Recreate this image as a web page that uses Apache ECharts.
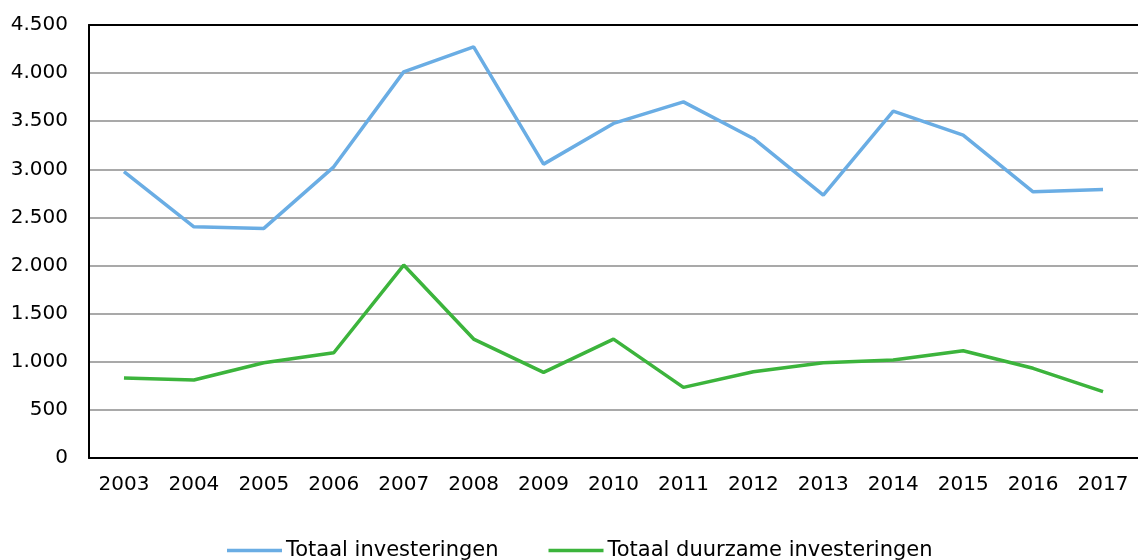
<!DOCTYPE html>
<html>
<head>
<meta charset="utf-8">
<script src="https://cdn.jsdelivr.net/npm/echarts@6/dist/echarts.min.js"></script>
<style>html,body{margin:0;padding:0;background:#fff}#c{width:1138px;height:560px}</style>
</head>
<body>
<div id="c"></div>
<script>
const years = ['2003','2004','2005','2006','2007','2008','2009','2010','2011','2012','2013','2014','2015','2016','2017'];
const totaalInvesteringen = [2975, 2403, 2386, 3026, 4013, 4273, 3054, 3477, 3701, 3321, 2732, 3605, 3355, 2766, 2791];
const totaalDuurzaam = [831, 810, 990, 1094, 2005, 1236, 890, 1236, 734, 897, 990, 1018, 1115, 932, 689];
const seriesNames = ['Totaal investeringen', 'Totaal duurzame investeringen'];

const fmt = v => String(v).replace(/\B(?=(\d{3})+(?!\d))/g, '.');
const font = 'DejaVu Sans, Verdana, sans-serif';
const chart = echarts.init(document.getElementById('c'));
chart.setOption({
  animation: false,
  backgroundColor: '#fff',
  grid: { left: 89, top: 25, right: 0, bottom: 102 },
  legend: {
    top: 540, left: 227, padding: 0,
    itemWidth: 55, itemHeight: 3.5, itemGap: 50,
    icon: 'rect',
    textStyle: { fontFamily: font, fontSize: 21, color: '#000', padding: [0,0,0,-1] },
    data: seriesNames
  },
  xAxis: [{
    type: 'category', data: years, boundaryGap: true,
    axisLine: { lineStyle: { color: '#000', width: 2 } },
    axisTick: { show: false },
    axisLabel: { fontFamily: font, fontSize: 20, color: '#000', margin: 17 }
  }, {
    type: 'category', data: years, boundaryGap: true, position: 'top',
    axisLine: { show: true, lineStyle: { color: '#000', width: 2 } },
    axisTick: { show: false },
    axisLabel: { show: false },
    splitLine: { show: false }
  }],
  yAxis: {
    type: 'value', min: 0, max: 4500, interval: 500,
    axisLine: { show: true, lineStyle: { color: '#000', width: 2 } },
    axisTick: { show: false },
    splitLine: { lineStyle: { color: '#8c8c8c', width: 1.5 } },
    axisLabel: { fontFamily: font, fontSize: 20, color: '#000', margin: 21, formatter: fmt }
  },
  series: [
    { name: seriesNames[0], type: 'line', xAxisIndex: 0, data: totaalInvesteringen, symbol: 'none', lineStyle: { color: '#6aade4', width: 3.5 }, itemStyle: { color: '#6aade4' } },
    { name: seriesNames[1], type: 'line', xAxisIndex: 0, data: totaalDuurzaam, symbol: 'none', lineStyle: { color: '#3cb43c', width: 3.5 }, itemStyle: { color: '#3cb43c' } }
  ]
});
</script>
</body>
</html>
